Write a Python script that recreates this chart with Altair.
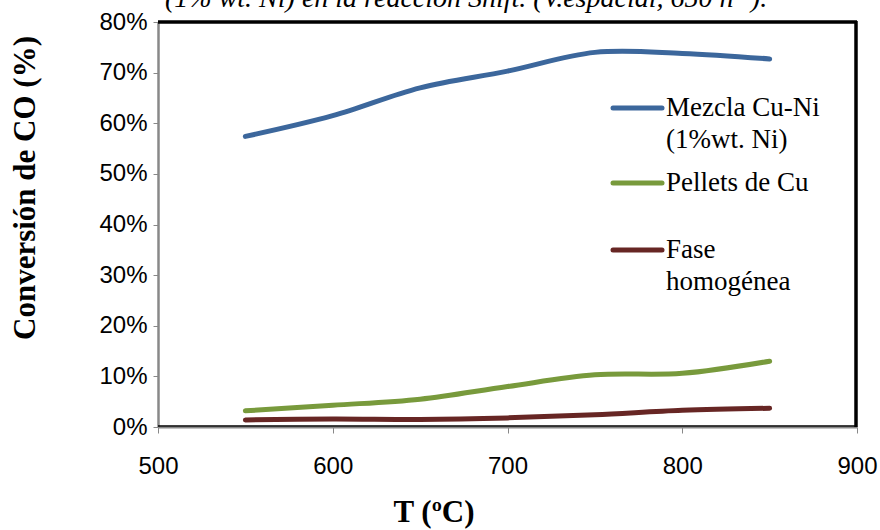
import altair as alt
import pandas as pd

temps = [550, 600, 650, 700, 750, 800, 850]
mezcla = [0.574, 0.615, 0.670, 0.703, 0.740, 0.738, 0.727]
pellets = [0.032, 0.043, 0.055, 0.080, 0.103, 0.106, 0.130]
fase = [0.014, 0.016, 0.015, 0.018, 0.024, 0.033, 0.037]

series_names = ["Mezcla Cu-Ni (1%wt. Ni)", "Pellets de Cu", "Fase homogénea"]
series_colors = ["#3C679C", "#789A3C", "#672624"]
y_ticks = [0, 0.1, 0.2, 0.3, 0.4, 0.5, 0.6, 0.7, 0.8]
x_ticks = [500, 600, 700, 800, 900]

title_text = "(1% wt. Ni) en la reacción Shift. (V.espacial, 650 h⁻¹)."
y_title = "Conversión de CO (%)"
x_title = "T (ºC)"

rows = []
for name, vals in zip(series_names, [mezcla, pellets, fase]):
    for t, v in zip(temps, vals):
        rows.append({"T": t, "conv": v, "serie": name})
df = pd.DataFrame(rows)

W, H = 699, 405

xs = alt.Scale(domain=[500, 900], nice=False, zero=False)
ys = alt.Scale(domain=[0, 0.8], nice=False)
cs = alt.Scale(domain=series_names, range=series_colors)

lines = alt.Chart(df).mark_line(strokeWidth=5, interpolate="catmull-rom", strokeCap="round").encode(
    x=alt.X("T:Q", scale=xs, axis=alt.Axis(values=x_ticks, title=None, grid=False,
            labelFont="Liberation Sans", labelFontSize=24, labelColor="black",
            labelPadding=21, tickSize=6, tickColor="#888888", domainColor="#888888",
            domainWidth=2, labelFlush=False)),
    y=alt.Y("conv:Q", scale=ys, axis=alt.Axis(values=y_ticks, format=".0%", title=None, grid=False,
            labelFont="Liberation Sans", labelFontSize=24, labelColor="black",
            labelPadding=6, tickSize=5, tickColor="#888888", domainColor="#888888",
            domainWidth=2.5)),
    color=alt.Color("serie:N", scale=cs, legend=None),
)

top_border = alt.Chart(pd.DataFrame({"a": [0]})).mark_rule(color="black", strokeWidth=3.5).encode(
    x=alt.value(0), x2=alt.value(W), y=alt.value(0))
right_border = alt.Chart(pd.DataFrame({"a": [0]})).mark_rule(color="black", strokeWidth=3.5).encode(
    x=alt.value(W - 1), y=alt.value(-1), y2=alt.value(H))
bottom_border = alt.Chart(pd.DataFrame({"a": [0]})).mark_rule(color="black", strokeWidth=1.5).encode(
    x=alt.value(0), x2=alt.value(W), y=alt.value(H - 1))

layers = [lines, top_border, right_border, bottom_border]

# manual legend
leg_y = [86, 161, 228]
leg_lines = [["Mezcla Cu-Ni", "(1%wt. Ni)"], ["Pellets de Cu"], ["Fase", "homogénea"]]
for name, col, yy, txt in zip(series_names, series_colors, leg_y, leg_lines):
    d = pd.DataFrame({"serie": [name]})
    layers.append(alt.Chart(d).mark_rule(color=col, strokeWidth=5, strokeCap="round").encode(
        x=alt.value(455), x2=alt.value(504), y=alt.value(yy)))
    layers.append(alt.Chart(d).mark_text(text=txt, align="left", baseline="middle",
        font="Liberation Serif", fontSize=27, lineHeight=32, color="black").encode(
        x=alt.value(508), y=alt.value(yy)))

d0 = pd.DataFrame({"a": [0]})
layers.append(alt.Chart(d0).mark_text(text=title_text, align="left", baseline="alphabetic",
    font="Liberation Serif", fontStyle="italic", fontSize=28, color="black").encode(
    x=alt.value(7), y=alt.value(-15)))
layers.append(alt.Chart(d0).mark_text(text=y_title, angle=270, align="center", baseline="middle",
    font="Liberation Serif", fontWeight="bold", fontSize=31, color="black").encode(
    x=alt.value(-132), y=alt.value(166)))
layers.append(alt.Chart(d0).mark_text(text=x_title, align="center", baseline="middle",
    font="Liberation Serif", fontWeight="bold", fontSize=31, color="black").encode(
    x=alt.value(276), y=alt.value(491)))

chart = alt.layer(*layers).properties(
    width=W, height=H,
    autosize=alt.AutoSizeParams(type="none"),
    padding={"left": 158, "top": 22, "right": 23, "bottom": 103},
    background="white",
).configure_view(stroke=None)

chart.save("out.html", embed_options={"renderer": "svg", "actions": False})
